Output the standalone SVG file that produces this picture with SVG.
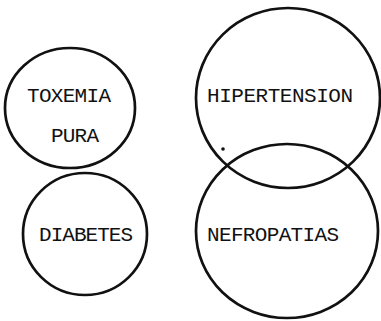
<svg xmlns="http://www.w3.org/2000/svg" width="381" height="321" viewBox="0 0 381 321">
<style>
.c{fill:none;stroke:#111;stroke-width:2.7}
.t{font-family:"Liberation Mono","DejaVu Sans Mono",monospace;font-size:21px;fill:#111}
</style>
<rect width="381" height="321" fill="#fff"/>
<g id="toxemia">
<ellipse class="c" cx="70" cy="108" rx="65" ry="60"/>
<text class="t" x="27" y="102" textLength="84">TOXEMIA</text>
<text class="t" x="51" y="142" textLength="48">PURA</text>
</g>
<g id="diabetes">
<ellipse class="c" cx="85" cy="234" rx="62" ry="61"/>
<text class="t" x="39" y="241" textLength="94">DIABETES</text>
</g>
<g id="hipertension">
<ellipse class="c" cx="288" cy="98" rx="92" ry="90"/>
<text class="t" x="207" y="102" textLength="146">HIPERTENSION</text>
<circle cx="223" cy="149" r="1.8" fill="#111"/>
</g>
<g id="nefropatias">
<ellipse class="c" cx="287" cy="231" rx="91" ry="87"/>
<text class="t" x="207" y="241" textLength="132">NEFROPATIAS</text>
</g>
</svg>
